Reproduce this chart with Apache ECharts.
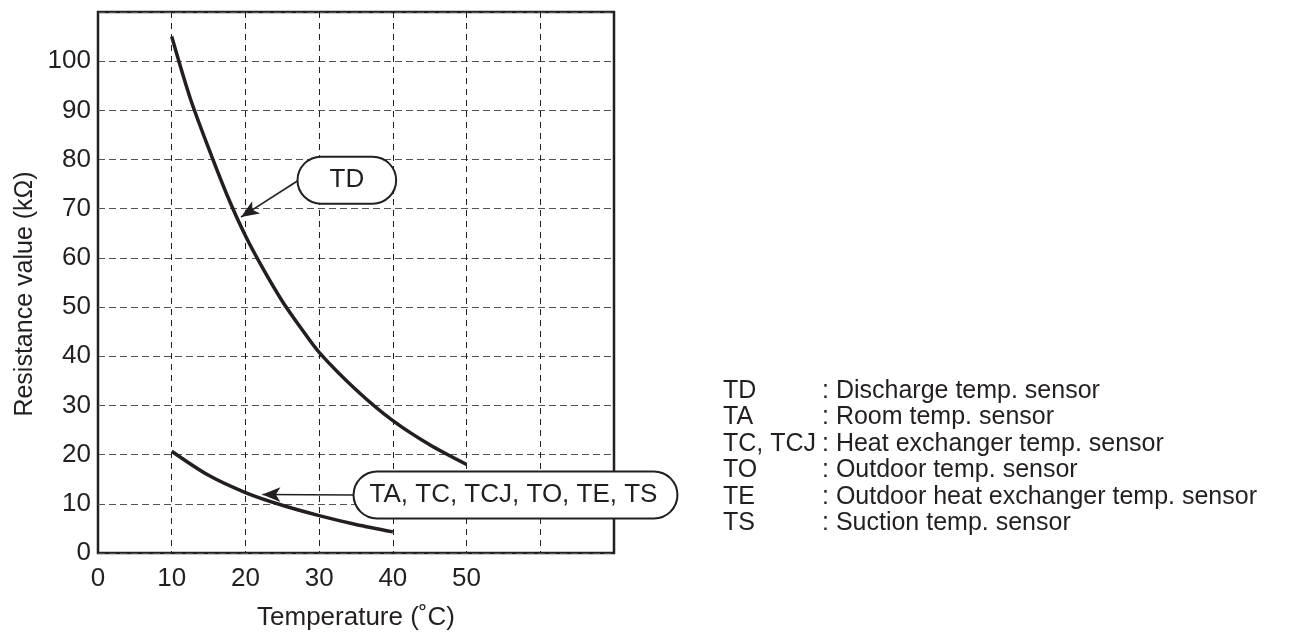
<!DOCTYPE html>
<html>
<head>
<meta charset="utf-8">
<script src="https://cdn.jsdelivr.net/npm/echarts@6/dist/echarts.min.js"></script>
<style>
  html, body { margin: 0; padding: 0; background: #fff; }
  #chart { width: 1315px; height: 637px; }
</style>
</head>
<body>
<div id="chart"></div>
<script>
// temperature (°C) vs resistance (kΩ)
var tdTemp = [10, 12.5, 15, 17.5, 20, 22.5, 25, 27.5, 30, 35, 40, 45, 50];
var tdRes  = [105, 92.5, 82.3, 72.8, 64.5, 57.5, 51.2, 45.8, 40.8, 33.2, 26.9, 22, 18];
var taTemp = [10, 15, 20, 25, 30, 35, 40];
var taRes  = [20.7, 15.8, 12.3, 9.7, 7.6, 5.8, 4.3];

var xTicks = [0, 10, 20, 30, 40, 50];
var yTicks = [0, 10, 20, 30, 40, 50, 60, 70, 80, 90, 100];

// callouts: [label, box left edge (temp, res), arrow tip (temp, res), padding]
var calloutTD = ['TD', [27.2, 75.8], [19.4, 68.3], [10, 31, 9, 31]];
var calloutTA = ['TA, TC, TCJ, TO, TE, TS', [34.8, 11.8], [22.3, 11.9], [10, 19, 9, 15]];

var legendCodes = ['TD', 'TA', 'TC, TCJ', 'TO', 'TE', 'TS'];
var legendNames = [': Discharge temp. sensor', ': Room temp. sensor', ': Heat exchanger temp. sensor',
  ': Outdoor temp. sensor', ': Outdoor heat exchanger temp. sensor', ': Suction temp. sensor'];

var ink = '#231f20';
var font = '"Liberation Sans", Arial, sans-serif';

function pairs(xs, ys) {
  return xs.map(function (x, i) { return [x, ys[i]]; });
}

function callout(c) {
  return {
    markLine: {
      silent: true,
      symbol: ['none', 'arrow'],
      symbolSize: [11, 18],
      lineStyle: { color: ink, width: 1.6, type: 'solid' },
      label: { show: false },
      data: [[{ coord: c[1] }, { coord: c[2] }]]
    },
    markPoint: {
      silent: true,
      symbol: 'circle',
      symbolSize: 0,
      itemStyle: { color: 'rgba(0,0,0,0)' },
      label: {
        show: true,
        position: 'right',
        distance: 0,
        formatter: c[0],
        color: ink,
        fontFamily: font,
        fontSize: 26,
        lineHeight: 26,
        backgroundColor: '#fff',
        borderColor: ink,
        borderWidth: 2,
        borderRadius: 23,
        padding: c[3]
      },
      data: [{ coord: c[1] }]
    }
  };
}

var chart = echarts.init(document.getElementById('chart'));

var graphics = [{
  type: 'text', x: 25, y: 294, rotation: Math.PI / 2,
  style: { text: 'Resistance value (kΩ)', fill: ink, font: '25px ' + font,
    align: 'center', verticalAlign: 'middle' }
}];
// legend block to the right of the plot
legendCodes.forEach(function (code, i) {
  graphics.push({ type: 'text', x: 723, y: 391 + i * 26.5,
    style: { text: code, fill: ink, font: '25px ' + font, verticalAlign: 'middle' } });
  graphics.push({ type: 'text', x: 822, y: 391 + i * 26.5,
    style: { text: legendNames[i], fill: ink, font: '25px ' + font, verticalAlign: 'middle' } });
});

var lineStyle = { color: ink, width: 3.5 };

var option = {
  animation: false,
  backgroundColor: '#fff',
  textStyle: { fontFamily: font },
  grid: {
    left: 98, top: 12, right: 701, bottom: 84,
    show: true, borderColor: ink, borderWidth: 2.5, backgroundColor: 'transparent'
  },
  xAxis: {
    type: 'value', min: 0, max: 70, interval: 10,
    name: 'Temperature (˚C)',
    nameLocation: 'middle', nameGap: 52,
    nameTextStyle: { color: ink, fontSize: 26 },
    axisLine: { show: false },
    axisTick: { show: false },
    splitLine: { lineStyle: { color: ink, width: 1, type: [6, 5] } },
    axisLabel: {
      color: ink, fontSize: 26, margin: 13,
      formatter: function (v) { return xTicks.indexOf(v) >= 0 ? String(v) : ''; }
    }
  },
  yAxis: {
    type: 'value', min: 0, max: 110, interval: 10,
    axisLine: { show: false },
    axisTick: { show: false },
    splitLine: { lineStyle: { color: '#555', width: 1, type: [7, 4] } },
    axisLabel: {
      color: ink, fontSize: 26, margin: 7,
      formatter: function (v) { return yTicks.indexOf(v) >= 0 ? String(v) : ''; }
    }
  },
  graphic: graphics,
  series: [
    Object.assign({
      type: 'line', name: 'TD', data: pairs(tdTemp, tdRes),
      smooth: 0.3, showSymbol: false, lineStyle: lineStyle, z: 3
    }, callout(calloutTD)),
    Object.assign({
      type: 'line', name: 'TA', data: pairs(taTemp, taRes),
      smooth: 0.3, showSymbol: false, lineStyle: lineStyle, z: 3
    }, callout(calloutTA))
  ]
};
chart.setOption(option);
</script>
</body>
</html>
